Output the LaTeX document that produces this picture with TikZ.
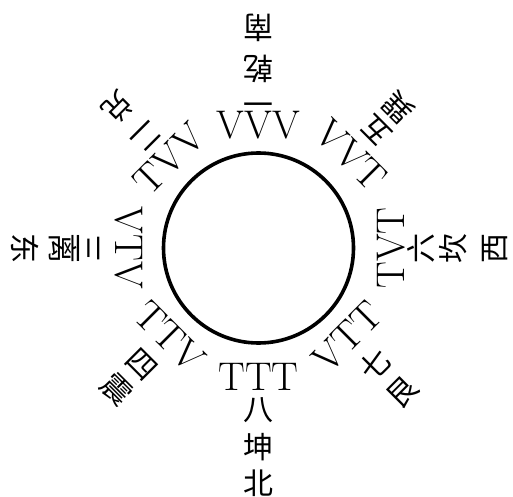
\documentclass[tikz,border=0pt]{standalone}
\usepackage{fontspec}
\newfontfamily\cjk{Noto Sans CJK SC}
\usetikzlibrary{calc}
\begin{document}
\begin{tikzpicture}[x=1pt,y=1pt,
  lat/.style={inner sep=0pt, font=\fontsize{40}{40}\selectfont},
  han/.style={inner sep=0pt, font=\cjk\fontsize{30}{30}\selectfont},
  ring/.style={line width=3.6pt}]
\useasboundingbox (0,0) rectangle (513,496);
\coordinate (O) at (258.5,248);
\draw[ring] (O) circle (95);
% axis labels: name/angle/latin radius/latin/latin rot/r1/r2/r3/c1/c2/c3/char rot
\foreach \n/\a/\lr/\t/\lrot/\ra/\rb/\rc/\ca/\cb/\cc/\crot in {
  top/90/123/VVV/0/149/179/220/一/乾/南/180,
  right/0/133/TVT/90/163/195/237/六/坎/西/90,
  bottom/-90/129/TTT/0/162/199/235/八/坤/北/0,
  left/180/130/VTV/-90/170/195/233/三/离/东/270}
{
  \node[lat, rotate=\lrot] (L\n) at ($(O)+(\a:\lr)$) {\t};
  \node[han, rotate=\crot] (A\n) at ($(O)+(\a:\ra)$) {\ca};
  \node[han, rotate=\crot] (B\n) at ($(O)+(\a:\rb)$) {\cb};
  \node[han, rotate=\crot] (C\n) at ($(O)+(\a:\rc)$) {\cc};
}
% diagonal labels: name/angle/latin radius/latin/latin rot/r1/r2/c1/c2/char rot
\foreach \n/\a/\lr/\t/\lrot/\ra/\rb/\ca/\cb/\crot in {
  tr/45/131/VVT/-45/166/198/五/巽/135,
  br/-45/126/VTT/45/165/204/七/艮/45,
  bl/-135/126/TTV/-45/165/200/四/震/-45,
  tl/135/126/TVV/45/158/199/二/兑/225}
{
  \node[lat, rotate=\lrot] (L\n) at ($(O)+(\a:\lr)$) {\t};
  \node[han, rotate=\crot] (A\n) at ($(O)+(\a:\ra)$) {\ca};
  \node[han, rotate=\crot] (B\n) at ($(O)+(\a:\rb)$) {\cb};
}
\end{tikzpicture}
\end{document}
